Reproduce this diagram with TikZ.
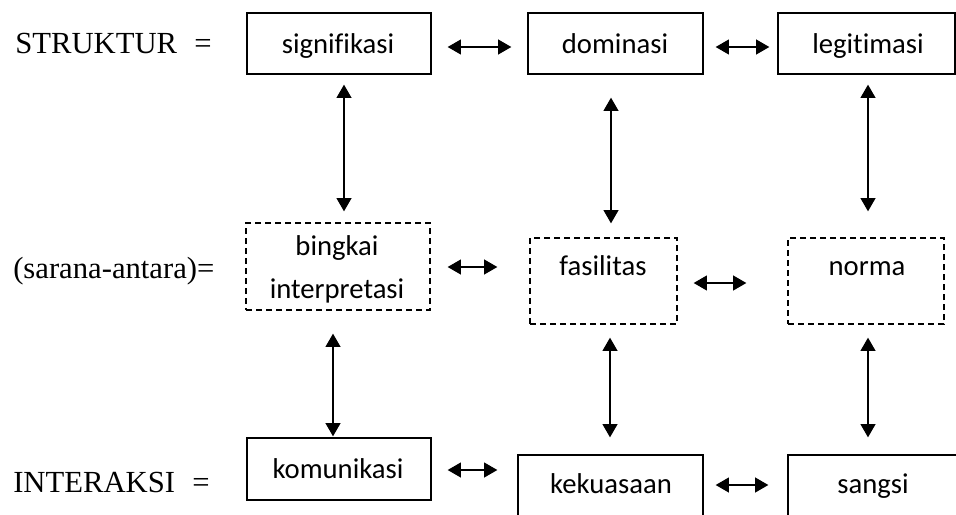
\documentclass[tikz,border=0pt]{standalone}
\usepackage{fontspec}
\setmainfont{Liberation Serif}
\newfontfamily\boxfont[Ligatures=NoCommon]{Carlito}
\usetikzlibrary{arrows.meta,calc}
\begin{document}
\begin{tikzpicture}[x=0.75pt,y=-0.75pt,
  box/.style={draw, line width=0.9pt, inner sep=0pt, rectangle},
  dbox/.style={box, dash pattern=on 4.5pt off 3pt},
  lbl/.style={anchor=base, inner sep=0pt, font=\boxfont\fontsize{21.5}{26}\selectfont},
  side/.style={anchor=base west, inner sep=0pt, font=\fontsize{23}{28}\selectfont},
  arr/.style={{Triangle[length=10pt,width=11pt]}-{Triangle[length=10pt,width=11pt]}, line width=1.7pt}]
\clip (0,0) rectangle (956,514);
\fill[white] (0,0) rectangle (956,514);
% side labels
\node[side] (lstr) at (15,53) {STRUKTUR\hspace{13pt}=};
\node[side] (lsar) at (13,278) {(sarana-antara)=};
\node[side] (lint) at (13,492) {INTERAKSI\hspace{13pt}=};
% boxes
\node[box, minimum width=138pt, minimum height=45.75pt] (sig) at (339,43.5) {};
\node[box, minimum width=131.25pt, minimum height=45.75pt] (dom) at (615.5,43.5) {};
\node[box, minimum width=132.75pt, minimum height=45.75pt] (leg) at (866.5,43.5) {};
\node[dbox, minimum width=138pt, minimum height=65.25pt] (bin) at (338,266.5) {};
\node[dbox, minimum width=110.25pt, minimum height=64.5pt] (fas) at (603.5,281) {};
\node[dbox, minimum width=117pt, minimum height=64.5pt] (nor) at (866,281) {};
\node[box, minimum width=138pt, minimum height=46.5pt] (kom) at (339,469) {};
\node[box, minimum width=138.75pt, minimum height=48.75pt] (kek) at (610.5,487.5) {};
\node[box, minimum width=129pt, minimum height=48.75pt] (san) at (874,487.5) {};
% box texts
\node[lbl] (tsig) at (338,53) {signifikasi};
\node[lbl] (tdom) at (615,53) {dominasi};
\node[lbl] (tleg) at (868,53) {legitimasi};
\node[lbl] (tbin) at (337,255) {bingkai};
\begin{scope}
\clip (240,223) rectangle (436,305);
\node[lbl] (tint) at (337,298) {interpretasi};
\end{scope}
\node[lbl] (tfas) at (603,275) {fasilitas};
\node[lbl] (tnor) at (867,275) {norma};
\node[lbl] (tkom) at (338,478) {komunikasi};
\node[lbl] (tkek) at (611,493) {kekuasaan};
\node[lbl] (tsan) at (873,493) {sangsi};
% horizontal arrows
\draw[arr] ($(sig.east)+(16,3.5)$) -- ($(dom.west)+(-16,3.5)$);
\draw[arr] ($(dom.east)+(12,3.5)$) -- ($(leg.west)+(-8,3.5)$);
\draw[arr] ($(bin.east)+(17,0.5)$) -- ($(fas.west)+(-32,-14)$);
\draw[arr] ($(fas.east)+(16,2)$) -- ($(nor.west)+(-41,2)$);
\draw[arr] ($(kom.east)+(16,1)$) -- ($(kek.west)+(-20,-17.5)$);
\draw[arr] ($(kek.east)+(12,-2.5)$) -- ($(san.west)+(-19,-2.5)$);
% vertical arrows
\draw[arr] ($(sig.south)+(5,10)$) -- ($(bin.north)+(6,-11)$);
\draw[arr] ($(dom.south)+(-4.5,23)$) -- ($(fas.north)+(7.5,-14)$);
\draw[arr] ($(leg.south)+(1.5,10)$) -- ($(nor.north)+(2,-26)$);
\draw[arr] ($(bin.south)+(-5,23)$) -- ($(kom.north)+(-6,-1)$);
\draw[arr] ($(fas.south)+(6.5,13)$) -- ($(kek.north)+(-0.5,-17)$);
\draw[arr] ($(nor.south)+(2,13)$) -- ($(san.north)+(-6,-17)$);
\end{tikzpicture}
\end{document}
